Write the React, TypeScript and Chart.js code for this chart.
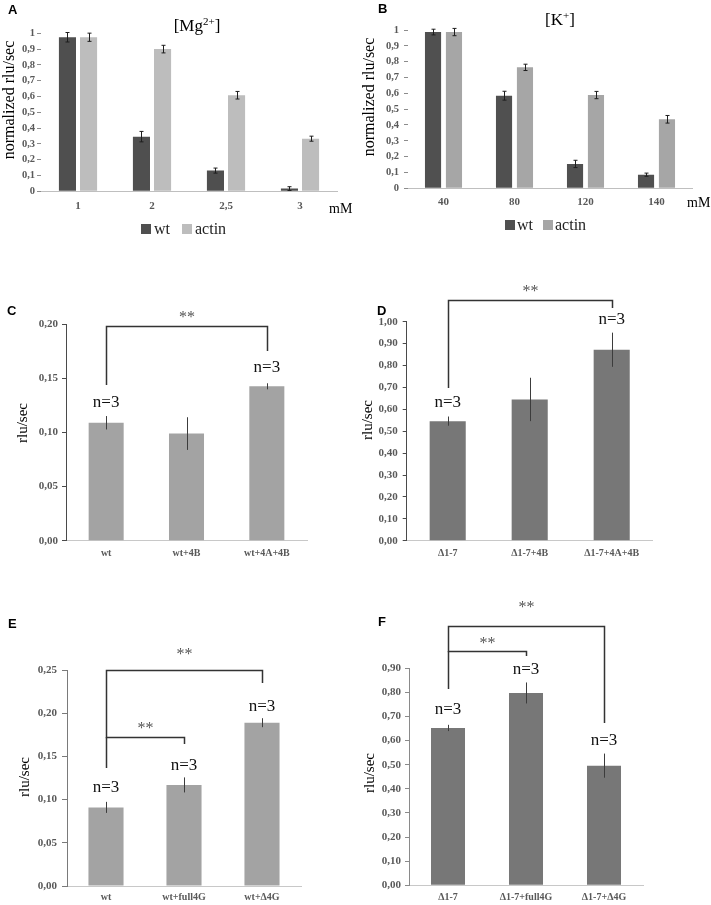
import React, { useEffect, useRef } from 'react';
import { Chart, registerables } from 'chart.js';

Chart.register(...registerables);

// ---------------- DATA ----------------
const SERIES_NAMES = ['wt', 'actin'];

const MG_CATEGORIES = ['1', '2', '2,5', '3'];
const MG_WT = [0.975, 0.346, 0.131, 0.017];
const MG_WT_ERR = [0.03, 0.033, 0.016, 0.012];
const MG_ACTIN = [0.975, 0.9, 0.608, 0.333];
const MG_ACTIN_ERR = [0.026, 0.024, 0.024, 0.016];

const K_CATEGORIES = ['40', '80', '120', '140'];
const K_WT = [0.987, 0.585, 0.154, 0.086];
const K_WT_ERR = [0.018, 0.028, 0.023, 0.01];
const K_ACTIN = [0.987, 0.764, 0.589, 0.436];
const K_ACTIN_ERR = [0.023, 0.02, 0.023, 0.024];

const C_CATEGORIES = ['wt', 'wt+4B', 'wt+4A+4B'];
const C_VALUES = [0.109, 0.099, 0.1427];
const C_ERRORS = [0.0062, 0.0151, 0.0028];

const D_CATEGORIES = ['Δ1-7', 'Δ1-7+4B', 'Δ1-7+4A+4B'];
const D_VALUES = [0.546, 0.645, 0.872];
const D_ERRORS = [0.021, 0.099, 0.078];

const E_CATEGORIES = ['wt', 'wt+full4G', 'wt+Δ4G'];
const E_VALUES = [0.091, 0.117, 0.189];
const E_ERRORS = [0.0064, 0.0087, 0.0052];

const F_CATEGORIES = ['Δ1-7', 'Δ1-7+full4G', 'Δ1-7+Δ4G'];
const F_VALUES = [0.6526, 0.7977, 0.4963];
const F_ERRORS = [0.013, 0.0436, 0.05];

const N_LABEL = 'n=3';
const SIG_LABEL = '**';
const UNIT_LABEL = 'mM';

// ---------------- STYLE / LAYOUT ----------------
const SERIF = '"Liberation Serif", "Times New Roman", serif';
const SANS = '"Liberation Sans", Arial, sans-serif';

type Bracket = { from: number; to: number; top: number; leftBottom: number; rightBottom: number; star: number };
type NMark = { index: number; value: number };

interface PanelSpec {
  key: string;
  left: number; top: number; width: number; height: number;
  area: { left: number; right: number; top: number; bottom: number };
  categories: string[];
  datasets: { label: string; data: number[]; errors: number[]; color: string }[];
  categoryPercentage: number; barPercentage: number;
  yMax: number; yStep: number; decimals: number;
  yTickLength: number; yTickPadding: number; yTickColor: string;
  yBorder: boolean; yBorderColor: string; xBorderColor: string;
  xFontSize: number; yFontSize: number; xTickPadding: number;
  errColor: string; errCap: number;
  letter: { text: string; x: number; y: number };
  yTitle: { text: string; x: number; y: number; size: number };
  title?: { main: string; sup: string; close: string; x: number; y: number };
  unit?: { x: number; y: number };
  legend?: { y: number; size: number; items: { x: number; textX: number }[]; baseline: number; fontSize: number };
  nMarks: NMark[];
  brackets: Bracket[];
}

const SPECS: PanelSpec[] = [
  {
    key: 'A', left: 0, top: 0, width: 355, height: 245,
    area: { left: 41, right: 337, top: 33.3, bottom: 191.3 },
    categories: MG_CATEGORIES,
    datasets: [
      { label: SERIES_NAMES[0], data: MG_WT, errors: MG_WT_ERR, color: '#4f4f4f' },
      { label: SERIES_NAMES[1], data: MG_ACTIN, errors: MG_ACTIN_ERR, color: '#bdbdbd' },
    ],
    categoryPercentage: 0.57, barPercentage: 0.81,
    yMax: 1, yStep: 0.1, decimals: 1,
    yTickLength: 4, yTickPadding: 2, yTickColor: '#8c8c8c',
    yBorder: false, yBorderColor: '#8c8c8c', xBorderColor: '#bfbfbf',
    xFontSize: 11, yFontSize: 10.5, xTickPadding: 8,
    errColor: '#1e1e1e', errCap: 2,
    letter: { text: 'A', x: 8, y: 4 },
    yTitle: { text: 'normalized rlu/sec', x: 10, y: 100, size: 16 },
    title: { main: '[Mg', sup: '2+', close: ']', x: 197, y: 31 },
    unit: { x: 329, y: 213 },
    legend: { y: 224, size: 10, items: [{ x: 141, textX: 154 }, { x: 182, textX: 195 }], baseline: 234, fontSize: 16 },
    nMarks: [], brackets: [],
  },
  {
    key: 'B', left: 355, top: 0, width: 356, height: 245,
    area: { left: 53, right: 337, top: 30, bottom: 188.3 },
    categories: K_CATEGORIES,
    datasets: [
      { label: SERIES_NAMES[0], data: K_WT, errors: K_WT_ERR, color: '#505050' },
      { label: SERIES_NAMES[1], data: K_ACTIN, errors: K_ACTIN_ERR, color: '#a6a6a6' },
    ],
    categoryPercentage: 0.59, barPercentage: 0.77,
    yMax: 1, yStep: 0.1, decimals: 1,
    yTickLength: 4, yTickPadding: 5, yTickColor: '#8c8c8c',
    yBorder: false, yBorderColor: '#8c8c8c', xBorderColor: '#bfbfbf',
    xFontSize: 11, yFontSize: 10.5, xTickPadding: 7,
    errColor: '#1e1e1e', errCap: 2,
    letter: { text: 'B', x: 23, y: 3 },
    yTitle: { text: 'normalized rlu/sec', x: 15, y: 97, size: 16 },
    title: { main: '[K', sup: '+', close: ']', x: 205, y: 25 },
    unit: { x: 332, y: 207 },
    legend: { y: 220, size: 10, items: [{ x: 150, textX: 162 }, { x: 188, textX: 200 }], baseline: 230, fontSize: 16 },
    nMarks: [], brackets: [],
  },
  {
    key: 'C', left: 0, top: 245, width: 355, height: 320,
    area: { left: 66, right: 307, top: 79.3, bottom: 295.7 },
    categories: C_CATEGORIES,
    datasets: [{ label: 'C', data: C_VALUES, errors: C_ERRORS, color: '#a3a3a3' }],
    categoryPercentage: 1, barPercentage: 0.436,
    yMax: 0.2, yStep: 0.05, decimals: 2,
    yTickLength: 4, yTickPadding: 4, yTickColor: '#4a4a4a',
    yBorder: true, yBorderColor: '#4a4a4a', xBorderColor: '#c8c8c8',
    xFontSize: 10, yFontSize: 11, xTickPadding: 6.3,
    errColor: '#3c3c3c', errCap: 0,
    letter: { text: 'C', x: 7, y: 60 },
    yTitle: { text: 'rlu/sec', x: 23, y: 178, size: 15 },
    nMarks: [{ index: 0, value: 0.1273 }, { index: 2, value: 0.1597 }],
    brackets: [{ from: 0, to: 2, top: 0.1984, leftBottom: 0.1439, rightBottom: 0.1753, star: 0.2077 }],
  },
  {
    key: 'D', left: 355, top: 245, width: 356, height: 320,
    area: { left: 51.7, right: 297.7, top: 76.7, bottom: 295.7 },
    categories: D_CATEGORIES,
    datasets: [{ label: 'D', data: D_VALUES, errors: D_ERRORS, color: '#777777' }],
    categoryPercentage: 1, barPercentage: 0.44,
    yMax: 1, yStep: 0.1, decimals: 2,
    yTickLength: 4, yTickPadding: 5, yTickColor: '#4a4a4a',
    yBorder: true, yBorderColor: '#4a4a4a', xBorderColor: '#c8c8c8',
    xFontSize: 10, yFontSize: 11, xTickPadding: 6.3,
    errColor: '#3c3c3c', errCap: 0,
    letter: { text: 'D', x: 22, y: 60 },
    yTitle: { text: 'rlu/sec', x: 13, y: 175, size: 15 },
    nMarks: [{ index: 0, value: 0.629 }, { index: 2, value: 1.012 }],
    brackets: [{ from: 0, to: 2, top: 1.101, leftBottom: 0.697, rightBottom: 1.063, star: 1.145 }],
  },
  {
    key: 'E', left: 0, top: 565, width: 355, height: 340,
    area: { left: 67, right: 301, top: 105, bottom: 321 },
    categories: E_CATEGORIES,
    datasets: [{ label: 'E', data: E_VALUES, errors: E_ERRORS, color: '#a3a3a3' }],
    categoryPercentage: 1, barPercentage: 0.45,
    yMax: 0.25, yStep: 0.05, decimals: 2,
    yTickLength: 5, yTickPadding: 5, yTickColor: '#7a7a7a',
    yBorder: true, yBorderColor: '#7a7a7a', xBorderColor: '#c8c8c8',
    xFontSize: 10, yFontSize: 11, xTickPadding: 5,
    errColor: '#3c3c3c', errCap: 0,
    letter: { text: 'E', x: 8, y: 53 },
    yTitle: { text: 'rlu/sec', x: 25, y: 212, size: 15 },
    nMarks: [{ index: 0, value: 0.1134 }, { index: 1, value: 0.1389 }, { index: 2, value: 0.2072 }],
    brackets: [
      { from: 0, to: 2, top: 0.25, leftBottom: 0.1366, rightBottom: 0.235, star: 0.2697 },
      { from: 0, to: 1, top: 0.1725, leftBottom: 0.1725, rightBottom: 0.1644, star: 0.184 },
    ],
  },
  {
    key: 'F', left: 355, top: 565, width: 356, height: 340,
    area: { left: 54, right: 288, top: 103.3, bottom: 320.3 },
    categories: F_CATEGORIES,
    datasets: [{ label: 'F', data: F_VALUES, errors: F_ERRORS, color: '#777777' }],
    categoryPercentage: 1, barPercentage: 0.436,
    yMax: 0.9, yStep: 0.1, decimals: 2,
    yTickLength: 4, yTickPadding: 4, yTickColor: '#8a8a8a',
    yBorder: true, yBorderColor: '#8a8a8a', xBorderColor: '#c8c8c8',
    xFontSize: 10, yFontSize: 11, xTickPadding: 5.7,
    errColor: '#3c3c3c', errCap: 0,
    letter: { text: 'F', x: 23, y: 51 },
    yTitle: { text: 'rlu/sec', x: 15, y: 208, size: 15 },
    nMarks: [{ index: 0, value: 0.727 }, { index: 1, value: 0.893 }, { index: 2, value: 0.599 }],
    brackets: [
      { from: 0, to: 2, top: 1.0767, leftBottom: 0.814, rightBottom: 0.673, star: 1.158 },
      { from: 0, to: 1, top: 0.972, leftBottom: 0.972, rightBottom: 0.951, star: 1.009 },
    ],
  },
];

function formatTick(v: number, decimals: number): string {
  const r = Math.round(v * 1000) / 1000;
  if (decimals === 1 && (r === 0 || r === 1)) return String(r);
  return r.toFixed(decimals).replace('.', ',');
}

function makePlugin(spec: PanelSpec) {
  return {
    id: 'extras' + spec.key,
    afterDatasetsDraw(chart: any) {
      const ctx: CanvasRenderingContext2D = chart.ctx;
      const ys = chart.scales.y;
      ctx.save();
      ctx.strokeStyle = spec.errColor;
      ctx.lineWidth = 1;
      spec.datasets.forEach((ds, i) => {
        const meta = chart.getDatasetMeta(i);
        meta.data.forEach((el: any, j: number) => {
          const v = ds.data[j];
          const e = ds.errors[j];
          const x = Math.round(el.x) + 0.5;
          const yt = ys.getPixelForValue(v + e);
          const yb = ys.getPixelForValue(v - e);
          ctx.beginPath();
          ctx.moveTo(x, yt);
          ctx.lineTo(x, yb);
          if (spec.errCap > 0) {
            ctx.moveTo(x - spec.errCap, yt);
            ctx.lineTo(x + spec.errCap, yt);
            ctx.moveTo(x - spec.errCap, yb);
            ctx.lineTo(x + spec.errCap, yb);
          }
          ctx.stroke();
        });
      });
      ctx.restore();
    },
    afterDraw(chart: any) {
      const ctx: CanvasRenderingContext2D = chart.ctx;
      const xs = chart.scales.x;
      const ys = chart.scales.y;
      ctx.save();

      // panel letter
      ctx.fillStyle = '#000';
      ctx.font = `bold 13px ${SANS}`;
      ctx.textAlign = 'left';
      ctx.textBaseline = 'top';
      ctx.fillText(spec.letter.text, spec.letter.x, spec.letter.y);

      // y title
      ctx.save();
      ctx.translate(spec.yTitle.x, spec.yTitle.y);
      ctx.rotate(-Math.PI / 2);
      ctx.font = `${spec.yTitle.size}px ${SERIF}`;
      ctx.textAlign = 'center';
      ctx.textBaseline = 'middle';
      ctx.fillStyle = '#000';
      ctx.fillText(spec.yTitle.text, 0, 0);
      ctx.restore();

      // title with superscript
      if (spec.title) {
        const t = spec.title;
        const big = `17px ${SERIF}`;
        const small = `11px ${SERIF}`;
        ctx.font = big;
        const w1 = ctx.measureText(t.main).width;
        const w3 = ctx.measureText(t.close).width;
        ctx.font = small;
        const w2 = ctx.measureText(t.sup).width;
        let x = t.x - (w1 + w2 + w3) / 2;
        ctx.textAlign = 'left';
        ctx.textBaseline = 'alphabetic';
        ctx.fillStyle = '#000';
        ctx.font = big;
        ctx.fillText(t.main, x, t.y);
        x += w1;
        ctx.font = small;
        ctx.fillText(t.sup, x, t.y - 6);
        x += w2;
        ctx.font = big;
        ctx.fillText(t.close, x, t.y);
      }

      // unit label
      if (spec.unit) {
        ctx.font = `14px ${SERIF}`;
        ctx.textAlign = 'left';
        ctx.textBaseline = 'alphabetic';
        ctx.fillStyle = '#000';
        ctx.fillText(UNIT_LABEL, spec.unit.x, spec.unit.y);
      }

      // legend
      if (spec.legend) {
        const lg = spec.legend;
        spec.datasets.forEach((ds, i) => {
          const it = lg.items[i];
          ctx.fillStyle = ds.color;
          ctx.fillRect(it.x, lg.y, lg.size, lg.size);
          ctx.fillStyle = '#222';
          ctx.font = `${lg.fontSize}px ${SERIF}`;
          ctx.textAlign = 'left';
          ctx.textBaseline = 'alphabetic';
          ctx.fillText(ds.label, it.textX, lg.baseline);
        });
      }

      // brackets
      ctx.strokeStyle = '#333';
      ctx.lineWidth = 1.5;
      spec.brackets.forEach((b) => {
        const xl = Math.round(xs.getPixelForValue(b.from)) + 0.5;
        const xr = Math.round(xs.getPixelForValue(b.to)) + 0.5;
        const yt = Math.round(ys.getPixelForValue(b.top)) + 0.5;
        const ylb = ys.getPixelForValue(b.leftBottom);
        const yrb = ys.getPixelForValue(b.rightBottom);
        ctx.beginPath();
        ctx.moveTo(xl, ylb);
        ctx.lineTo(xl, yt);
        ctx.lineTo(xr, yt);
        ctx.lineTo(xr, yrb);
        ctx.stroke();
        ctx.fillStyle = '#555';
        ctx.font = `16px ${SERIF}`;
        ctx.textAlign = 'center';
        ctx.textBaseline = 'middle';
        ctx.fillText(SIG_LABEL, (xl + xr) / 2, ys.getPixelForValue(b.star) + 2);
      });

      // n labels
      ctx.fillStyle = '#111';
      ctx.font = `17px ${SERIF}`;
      ctx.textAlign = 'center';
      ctx.textBaseline = 'middle';
      spec.nMarks.forEach((n) => {
        ctx.fillText(N_LABEL, xs.getPixelForValue(n.index), ys.getPixelForValue(n.value));
      });

      ctx.restore();
    },
  };
}

function buildConfig(spec: PanelSpec): any {
  return {
    type: 'bar',
    data: {
      labels: spec.categories,
      datasets: spec.datasets.map((d) => ({
        label: d.label,
        data: d.data,
        backgroundColor: d.color,
        borderWidth: 0,
        categoryPercentage: spec.categoryPercentage,
        barPercentage: spec.barPercentage,
      })),
    },
    options: {
      responsive: false,
      maintainAspectRatio: false,
      animation: false,
      devicePixelRatio: 1,
      layout: {
        padding: {
          left: 0,
          right: spec.width - spec.area.right,
          top: spec.area.top,
          bottom: 0,
        },
      },
      plugins: {
        legend: { display: false },
        tooltip: { enabled: false },
        title: { display: false },
      },
      scales: {
        x: {
          type: 'category',
          offset: true,
          grid: { display: false, drawTicks: false },
          border: { display: true, color: spec.xBorderColor, width: 1 },
          ticks: {
            font: { family: SERIF, size: spec.xFontSize, weight: 'bold' },
            color: '#595959',
            padding: spec.xTickPadding,
            maxRotation: 0,
            minRotation: 0,
            autoSkip: false,
          },
          afterFit: (s: any) => {
            s.height = spec.height - spec.area.bottom;
          },
        },
        y: {
          type: 'linear',
          min: 0,
          max: spec.yMax,
          ticks: {
            stepSize: spec.yStep,
            font: { family: SERIF, size: spec.yFontSize, weight: 'bold' },
            color: '#595959',
            padding: spec.yTickPadding,
            callback: (v: any) => formatTick(Number(v), spec.decimals),
          },
          grid: {
            display: true,
            drawOnChartArea: false,
            drawTicks: true,
            tickLength: spec.yTickLength,
            color: spec.yTickColor,
            lineWidth: 1,
          },
          border: { display: spec.yBorder, color: spec.yBorderColor, width: 1 },
          afterFit: (s: any) => {
            s.width = spec.area.left;
          },
        },
      },
    },
    plugins: [makePlugin(spec)],
  };
}

function Panel({ spec }: { spec: PanelSpec }) {
  const ref = useRef<HTMLCanvasElement | null>(null);
  useEffect(() => {
    if (!ref.current) return;
    const chart = new Chart(ref.current, buildConfig(spec));
    return () => chart.destroy();
  }, [spec]);
  return (
    <canvas
      ref={ref}
      width={spec.width}
      height={spec.height}
      style={{ position: 'absolute', left: spec.left, top: spec.top, width: spec.width, height: spec.height }}
    />
  );
}

export default function App() {
  return (
    <div style={{ position: 'absolute', left: 0, top: 0, width: 711, height: 905, background: '#fff', overflow: 'hidden' }}>
      {SPECS.map((s) => (
        <Panel key={s.key} spec={s} />
      ))}
    </div>
  );
}
